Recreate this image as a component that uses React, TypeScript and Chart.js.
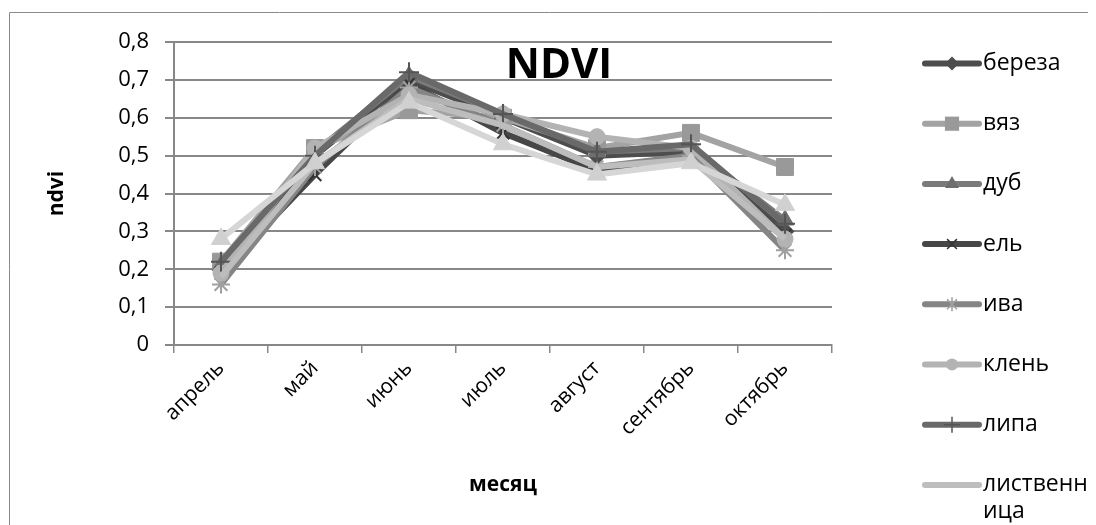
import React, { useEffect, useRef } from 'react';
import { Chart, registerables } from 'chart.js';

Chart.register(...registerables);

const months = ['апрель', 'май', 'июнь', 'июль', 'август', 'сентябрь', 'октябрь'];

const seriesNames = ['береза', 'вяз', 'дуб', 'ель', 'ива', 'клень', 'липа', 'лиственница', 'сосна'];

const bereza = [0.20, 0.50, 0.70, 0.60, 0.50, 0.51, 0.30];
const vyaz = [0.22, 0.52, 0.62, 0.60, 0.52, 0.56, 0.47];
const dub = [0.21, 0.51, 0.71, 0.61, 0.51, 0.52, 0.33];
const el = [0.19, 0.45, 0.69, 0.56, 0.46, 0.50, 0.29];
const iva = [0.16, 0.47, 0.68, 0.58, 0.47, 0.50, 0.25];
const klen = [0.19, 0.52, 0.66, 0.61, 0.55, 0.52, 0.28];
const lipa = [0.22, 0.50, 0.72, 0.61, 0.51, 0.53, 0.32];
const listvennitsa = [0.18, 0.48, 0.65, 0.58, 0.47, 0.49, 0.28];
const sosna = [0.28, 0.48, 0.64, 0.53, 0.45, 0.48, 0.37];

const seriesValues = [bereza, vyaz, dub, el, iva, klen, lipa, listvennitsa, sosna];

const lineColors = ['#4d4d4d', '#a3a3a3', '#7a7a7a', '#474747', '#858585', '#b3b3b3', '#696969', '#bdbdbd', '#d6d6d6'];
const markerColors = ['#4d4d4d', '#999999', '#6e6e6e', '#333333', '#a0a0a0', '#b3b3b3', '#555555', '#bdbdbd', '#d0d0d0'];
const markerStyles = ['rectRot', 'rect', 'triangle', 'crossRot', 'star', 'circle', 'cross', 'none', 'triangle'];
const markerRadii = [9, 12, 10, 9, 9, 8, 10, 0, 11];

const FONT = '"Open Sans", "DejaVu Sans", sans-serif';

function drawMarker(ctx: CanvasRenderingContext2D, style: string, x: number, y: number, r: number, fill: string, stroke: string) {
  if (style === 'none' || r <= 0) return;
  ctx.save();
  ctx.fillStyle = fill;
  ctx.strokeStyle = stroke;
  ctx.lineWidth = 1.5;
  ctx.beginPath();
  if (style === 'rectRot') {
    ctx.moveTo(x, y - r);
    ctx.lineTo(x + r, y);
    ctx.lineTo(x, y + r);
    ctx.lineTo(x - r, y);
    ctx.closePath();
    ctx.fill();
  } else if (style === 'rect') {
    const s = r * Math.SQRT1_2;
    ctx.rect(x - s, y - s, 2 * s, 2 * s);
    ctx.fill();
  } else if (style === 'triangle') {
    ctx.moveTo(x, y - r);
    ctx.lineTo(x + r * 0.866, y + r * 0.5);
    ctx.lineTo(x - r * 0.866, y + r * 0.5);
    ctx.closePath();
    ctx.fill();
  } else if (style === 'circle') {
    ctx.arc(x, y, r, 0, Math.PI * 2);
    ctx.fill();
  } else if (style === 'crossRot') {
    const d = r * 0.707;
    ctx.moveTo(x - d, y - d); ctx.lineTo(x + d, y + d);
    ctx.moveTo(x + d, y - d); ctx.lineTo(x - d, y + d);
    ctx.stroke();
  } else if (style === 'cross') {
    ctx.moveTo(x, y - r); ctx.lineTo(x, y + r);
    ctx.moveTo(x - r, y); ctx.lineTo(x + r, y);
    ctx.stroke();
  } else if (style === 'star') {
    const d = r * 0.707;
    ctx.moveTo(x - d, y - d); ctx.lineTo(x + d, y + d);
    ctx.moveTo(x + d, y - d); ctx.lineTo(x - d, y + d);
    ctx.moveTo(x, y - r); ctx.lineTo(x, y + r);
    ctx.stroke();
  }
  ctx.restore();
}

const decorPlugin = {
  id: 'decor',
  beforeDraw(chart: any) {
    const ctx = chart.ctx as CanvasRenderingContext2D;
    ctx.save();
    ctx.fillStyle = '#ffffff';
    ctx.fillRect(0, 0, chart.width, chart.height);
    ctx.strokeStyle = '#8a8a8a';
    ctx.lineWidth = 1;
    ctx.beginPath();
    ctx.moveTo(1.5, chart.height + 5);
    ctx.lineTo(1.5, 4.5);
    ctx.lineTo(chart.width + 5, 4.5);
    ctx.stroke();
    ctx.restore();
  },
  afterDraw(chart: any) {
    const ctx = chart.ctx as CanvasRenderingContext2D;
    ctx.save();
    // title
    ctx.fillStyle = '#000';
    ctx.font = `bold 42px ${FONT}`;
    ctx.textAlign = 'center';
    ctx.textBaseline = 'middle';
    ctx.fillText('NDVI', 551, 58);

    // legend
    const lineX1 = 917;
    const lineX2 = 971;
    const textX = 975;
    const maxW = 108;
    ctx.font = `23px ${FONT}`;
    ctx.textAlign = 'left';
    chart.data.datasets.forEach((ds: any, i: number) => {
      const y = 55.5 + i * 60.2;
      ctx.save();
      ctx.strokeStyle = lineColors[i];
      ctx.lineWidth = 6;
      ctx.lineCap = 'round';
      ctx.beginPath();
      ctx.moveTo(lineX1, y);
      ctx.lineTo(lineX2, y);
      ctx.stroke();
      ctx.restore();
      drawMarker(ctx, markerStyles[i], (lineX1 + lineX2) / 2, y, Math.max(0, markerRadii[i] - 2), markerColors[i], markerColors[i]);
      const label: string = ds.label;
      const lines: string[] = [];
      let cur = '';
      for (const ch of label) {
        if (ctx.measureText(cur + ch).width > maxW && cur.length > 0) {
          lines.push(cur);
          cur = ch;
        } else {
          cur += ch;
        }
      }
      if (cur) lines.push(cur);
      ctx.fillStyle = '#000';
      lines.forEach((ln, k) => {
        ctx.fillText(ln, textX, y + k * 27);
      });
    });
    ctx.restore();
  },
};

export default function App() {
  const canvasRef = useRef<HTMLCanvasElement | null>(null);

  useEffect(() => {
    if (!canvasRef.current) return;
    const n = seriesValues.length;
    const chart = new Chart(canvasRef.current, {
      type: 'line',
      data: {
        labels: months,
        datasets: seriesValues.map((vals, i) => ({
          label: seriesNames[i],
          data: vals,
          borderColor: lineColors[i],
          backgroundColor: markerColors[i],
          borderWidth: 6,
          pointStyle: markerStyles[i] === 'none' ? false : (markerStyles[i] as any),
          pointRadius: markerRadii[i],
          pointBackgroundColor: markerColors[i],
          pointBorderColor: markerColors[i],
          pointBorderWidth: ['crossRot', 'cross', 'star'].includes(markerStyles[i]) ? 2 : 1,
          tension: 0,
          fill: false,
          order: n - i,
        })),
      },
      options: {
        responsive: true,
        maintainAspectRatio: false,
        animation: false,
        layout: { padding: { left: 30, top: 34, right: 256, bottom: 0 } },
        plugins: {
          legend: { display: false },
          title: { display: false },
          tooltip: { enabled: false },
        },
        scales: {
          x: {
            type: 'category',
            offset: true,
            grid: {
              display: true,
              drawOnChartArea: false,
              drawTicks: true,
              tickLength: 8,
              color: '#888888',
              lineWidth: 1.5,
              offset: true,
            },
            border: { display: true, color: '#888888', width: 2 },
            ticks: {
              minRotation: 45,
              maxRotation: 45,
              autoSkip: false,
              padding: 3,
              color: '#000',
              font: { family: FONT, size: 21 },
            },
            title: {
              display: true,
              text: 'месяц',
              color: '#000',
              font: { family: FONT, size: 21, weight: 'bold' },
              padding: { top: 0, bottom: 27 },
            },
            afterFit: (s: any) => { s.height = 180; },
          },
          y: {
            min: 0,
            max: 0.8,
            ticks: {
              stepSize: 0.1,
              padding: 16,
              color: '#000',
              font: { family: FONT, size: 22 },
              callback: (v: any) => (Number(v) === 0 ? '0' : Number(v).toFixed(1).replace('.', ',')),
            },
            grid: { color: '#888888', lineWidth: 2, tickLength: 9 },
            border: { display: true, color: '#888888', width: 2 },
            title: {
              display: true,
              text: 'ndvi',
              color: '#000',
              font: { family: FONT, size: 21, weight: 'bold' },
              padding: { top: 6, bottom: 0 },
            },
            afterFit: (s: any) => { s.width = 136; },
          },
        },
      },
      plugins: [decorPlugin],
    });
    return () => chart.destroy();
  }, []);

  return (
    <div style={{ position: 'relative', width: 1080, height: 517 }}>
      <canvas ref={canvasRef} />
    </div>
  );
}
